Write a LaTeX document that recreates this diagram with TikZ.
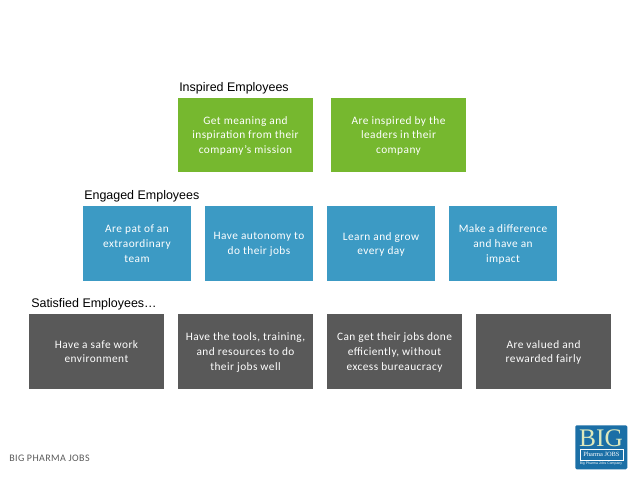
\documentclass[tikz,border=0pt]{standalone}
\usepackage{fontspec}
\setmainfont{Liberation Sans}
\newfontfamily\bodyfont[LetterSpace=4]{Carlito}
\newfontfamily\logofont{Liberation Serif}
\definecolor{inspiredgreen}{HTML}{76B82F}
\definecolor{engagedblue}{HTML}{3C9AC4}
\definecolor{satisfiedgrey}{HTML}{595959}
\definecolor{logoblue}{HTML}{1B6FA6}
\definecolor{logocream}{HTML}{DDE8BC}
\tikzset{
  box/.style={anchor=north west,inner sep=0pt,outer sep=0pt,text=white,align=center,
    font=\fontsize{8.5pt}{11pt}\bodyfont,text depth=0pt},
  greenbox/.style={box,fill=inspiredgreen,minimum width=101.25pt,minimum height=55.5pt},
  bluebox/.style={box,fill=engagedblue,minimum width=81pt,minimum height=56.25pt},
  greybox/.style={box,fill=satisfiedgrey,minimum width=101.25pt,minimum height=56.25pt},
  heading/.style={anchor=west,inner sep=0pt,font=\fontsize{9.35pt}{11pt}\selectfont,text=black}
}
\begin{document}
\begin{tikzpicture}[x=0.75pt,y=-0.75pt]
            \useasboundingbox (0,0) rectangle (638,479);

            % Inspired
            \node[heading] (inspired) at (179,88.5) {Inspired Employees};
            \node[greenbox] (mission) at (178,98) {Get meaning and\\inspiration from their\\company’s mission};
            \node[greenbox] (leaders) at (331,98) {Are inspired by the\\leaders in their\\company};

            % Engaged
            \node[heading] (engaged) at (84,196.5) {Engaged Employees};
            \node[bluebox] (team) at (83,206) {Are pat of an\\extraordinary\\team};
            \node[bluebox] (autonomy) at (205,206) {Have autonomy to\\do their jobs};
            \node[bluebox] (learn) at (327,206) {Learn and grow\\every day};
            \node[bluebox] (difference) at (449,206) {Make a difference\\and have an\\impact};

            % Satisfied
            \node[heading] (satisfied) at (31,304.5) {Satisfied Employees\dots};
            \node[greybox] (safe) at (29,314) {Have a safe work\\environment};
            \node[greybox] (tools) at (178,314) {Have the tools, training,\\and resources to do\\their jobs well};
            \node[greybox] (efficient) at (327,314) {Can get their jobs done\\efficiently, without\\excess bureaucracy};
            \node[greybox] (valued) at (476,314) {Are valued and\\rewarded fairly};

            % Pie y logo
            \node[anchor=west,inner sep=0pt,font=\fontsize{7.5pt}{9pt}\bodyfont,text=satisfiedgrey] (footer) at (9,458) {BIG PHARMA JOBS};
            \node[anchor=north west,inner sep=0pt,fill=logoblue,rounded corners=1pt,minimum width=39pt,minimum height=33pt] (logo) at (575,425) {};
            \node[inner sep=0pt,text=logocream,font=\fontsize{19pt}{19pt}\logofont] (logobig) at (601,438) {BIG};
            \node[draw=white,line width=0.3pt,inner sep=0pt,minimum width=32pt,minimum height=8pt,text=white,font=\fontsize{4.8pt}{5pt}\logofont] (logoname) at (601.5,454.5) {Pharma JOBS};
            \node[inner sep=0pt,text=white,font=\fontsize{2.6pt}{3pt}\selectfont] (logotag) at (601,463.5) {Big Pharma Jobs Company};
        \end{tikzpicture}
\end{document}
